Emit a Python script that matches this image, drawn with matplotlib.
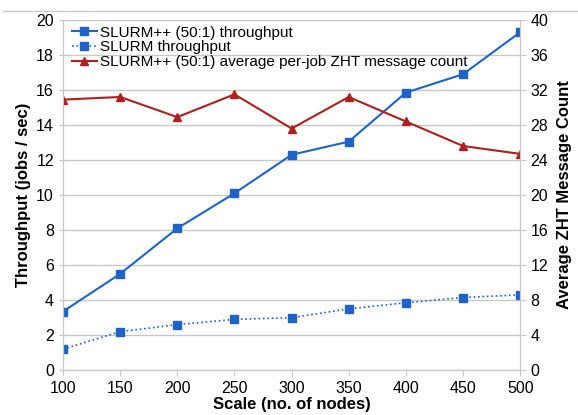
import matplotlib
matplotlib.use('Agg')
import matplotlib.pyplot as plt

nodes = [100, 150, 200, 250, 300, 350, 400, 450, 500]
slurmpp_tp = [3.35, 5.5, 8.1, 10.1, 12.3, 13.05, 15.85, 16.9, 19.3]
slurm_tp = [1.2, 2.2, 2.6, 2.9, 3.0, 3.5, 3.85, 4.15, 4.3]
zht_count = [30.9, 31.2, 28.9, 31.5, 27.6, 31.2, 28.4, 25.6, 24.7]

blue = '#1f63c9'
red = '#b01e1e'
gris = '#c8c8c8'

plt.rcParams['font.family'] = ['Liberation Sans', 'DejaVu Sans']

fig, ax = plt.subplots(figsize=(5.78, 4.15), dpi=100)
fig.subplots_adjust(left=0.109, right=0.9, top=0.952, bottom=0.108)
ax2 = ax.twinx()

l1, = ax.plot(nodes, slurmpp_tp, color=blue, marker='s', markersize=6, linewidth=1.5,
              label='SLURM++ (50:1) throughput')
l2, = ax.plot(nodes, slurm_tp, color=blue, marker='s', markersize=6, linewidth=1.2,
              linestyle=':', label='SLURM throughput')
l3, = ax2.plot(nodes, zht_count, color=red, marker='^', markersize=6, linewidth=1.5,
               label='SLURM++ (50:1) average per-job ZHT message count')

ax.set_xlim(100, 500)
ax.set_ylim(0, 20)
ax.set_yticks(range(0, 21, 2))
ax.set_xticks(nodes)
ax2.set_ylim(0, 40)
ax2.set_yticks(range(0, 41, 4))

ax.grid(axis='y', color=gris, linewidth=1)
ax.set_axisbelow(True)

for a in (ax, ax2):
    a.spines['top'].set_visible(False)
    for s in ('left', 'right', 'bottom'):
        a.spines[s].set_color(gris)
    a.tick_params(colors=gris, labelcolor='black', labelsize=11.5, length=4)
ax.tick_params(axis='y', length=3)

ax.set_xlabel('Scale (no. of nodes)', fontsize=12, fontweight='bold', labelpad=1)
ax.set_ylabel('Throughput (jobs / sec)', fontsize=12, fontweight='bold', labelpad=4)
ax2.set_ylabel('Average ZHT Message Count', fontsize=12, fontweight='bold', labelpad=6)

ax.legend(handles=[l1, l2, l3], loc='upper left', frameon=False, fontsize=11,
          handlelength=1.6, handletextpad=0.25, labelspacing=0.05,
          borderaxespad=0.2, bbox_to_anchor=(0.0, 1.01))

fig.add_artist(plt.Line2D([0.005, 1.0], [0.973, 0.973], color='#cccccc', linewidth=1))

plt.savefig('out.png', dpi=100)
